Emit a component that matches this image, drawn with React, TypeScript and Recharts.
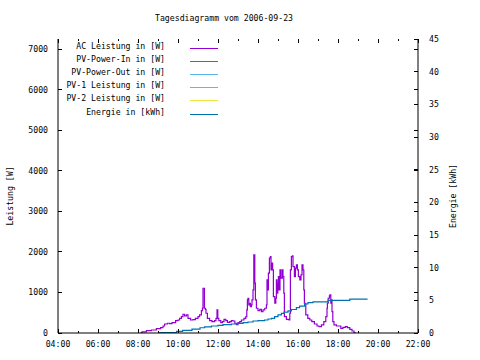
import { LineChart, Line, XAxis, YAxis, Legend } from 'recharts'

const FONT = '"DejaVu Sans Mono", "Liberation Mono", monospace'
const PLOT_W = 360
const PLOT_H = 294

const title = 'Tagesdiagramm vom 2006-09-23'
const leftLabel = 'Leistung [W]'
const rightLabel = 'Energie [kWh]'

const hourTicks = [4, 5, 6, 7, 8, 9, 10, 11, 12, 13, 14, 15, 16, 17, 18, 19, 20, 21, 22]
const wattTicks = [0, 1000, 2000, 3000, 4000, 5000, 6000, 7000]
const kwhTicks = [0, 5, 10, 15, 20, 25, 30, 35, 40, 45]

const seriesNames = [
  'AC Leistung in [W]',
  'PV-Power-In in [W]',
  'PV-Power-Out in [W]',
  'PV-1 Leistung in [W]',
  'PV-2 Leistung in [W]',
  'Energie in [kWh]',
]
const seriesColors = ['#9400d3', '#009e73', '#56b4e9', '#e69f00', '#f0e442', '#0072b2']

// AC power, hours of day / watts
const acHours = [
  8.13, 8.2, 8.42, 8.67, 8.92, 9.13, 9.25, 9.33, 9.47, 9.58, 9.7, 9.88, 10.0, 10.08, 10.17,
  10.25, 10.33, 10.42, 10.5, 10.63, 10.75, 10.87, 11.0, 11.08, 11.17, 11.22, 11.25, 11.32,
  11.37, 11.4, 11.47, 11.58, 11.7, 11.83, 11.9, 11.95, 11.99, 12.04, 12.14, 12.22, 12.3,
  12.39, 12.47, 12.59, 12.67, 12.75, 12.84, 12.92, 13.0, 13.09, 13.17, 13.3, 13.39, 13.44,
  13.47, 13.5, 13.54, 13.57, 13.62, 13.67, 13.7, 13.75, 13.79, 13.84, 13.87, 13.92, 14.0,
  14.09, 14.17, 14.25, 14.34, 14.42, 14.45, 14.49, 14.52, 14.57, 14.62, 14.65, 14.7, 14.73,
  14.77, 14.84, 14.89, 14.92, 14.95, 14.99, 15.02, 15.05, 15.1, 15.15, 15.22, 15.25, 15.29,
  15.32, 15.42, 15.55, 15.59, 15.62, 15.67, 15.72, 15.75, 15.82, 15.87, 15.92, 15.97, 16.02,
  16.09, 16.15, 16.2, 16.25, 16.29, 16.32, 16.39, 16.49, 16.59, 16.69, 16.82, 16.95, 17.05,
  17.17, 17.29, 17.39, 17.45, 17.47, 17.51, 17.57, 17.6, 17.64, 17.67, 17.7, 17.74, 17.8,
  17.92, 18.04, 18.14, 18.25, 18.37, 18.47, 18.59, 18.7, 18.8, 18.85,
]
const acWatts = [
  10, 30, 57, 74, 106, 131, 173, 222, 240, 230, 254, 304, 321, 363, 403,
  462, 420, 445, 363, 321, 329, 363, 403, 445, 551, 610, 1104, 610,
  585, 487, 363, 304, 279, 304, 363, 568, 363, 304, 254, 279, 338,
  304, 264, 279, 304, 296, 240, 205, 254, 279, 321, 363, 403, 568,
  815, 857, 692, 734, 650, 692, 815, 1062, 1927, 1228, 815, 610, 551,
  585, 526, 568, 610, 692, 1309, 1062, 1475, 1845, 1885, 1556, 1722, 1556,
  897, 734, 857, 1309, 981, 1228, 1391, 1062, 1556, 1351, 1556, 1391, 981,
  403, 338, 321, 487, 1556, 1885, 1900, 1638, 1391, 1598, 1680, 1556, 1391,
  1309, 1433, 1680, 1556, 1062, 734, 445, 363, 321, 279, 222, 173, 156,
  198, 279, 403, 610, 734, 857, 914, 939, 734, 815, 526, 279, 198,
  173, 173, 116, 141, 156, 131, 91, 49, 7, 0,
]

// cumulated energy, hours of day / kWh
const energyHours = [
  9.0, 9.93, 10.23, 10.7, 11.1, 11.33, 11.67, 12.0, 12.25, 12.67, 13.0, 13.25, 13.5, 13.75,
  14.0, 14.33, 14.5, 14.67, 14.83, 15.0, 15.17, 15.3, 15.5, 15.67, 15.92, 16.08, 16.33, 16.5,
  16.75, 17.5, 18.59, 19.48,
]
const energyKwh = [
  0.05, 0.25, 0.4, 0.6, 0.8, 0.95, 1.07, 1.18, 1.28, 1.38, 1.48, 1.58, 1.68, 1.84,
  1.9, 1.99, 2.14, 2.25, 2.5, 2.76, 3.0, 3.2, 3.4, 3.6, 3.87, 4.1, 4.44, 4.64,
  4.75, 5.0, 5.2, 5.2,
]

// no readings for these channels on this day
const pvInWatts: { h: number; v: number }[] = []
const pvOutWatts: { h: number; v: number }[] = []
const pv1Watts: { h: number; v: number }[] = []
const pv2Watts: { h: number; v: number }[] = []

const acData = acHours.map((h, i) => ({ h, v: acWatts[i] }))
const energyData = energyHours.map((h, i) => ({ h, v: energyKwh[i] }))

const fmtHour = (h: number) => `${String(h).padStart(2, '0')}:00`

const textStyle = { fontFamily: FONT, fontSize: 8.2, fill: '#000' }

const HourTick = ({ x, y, payload }: any) => {
  const major = payload.value % 2 === 0
  const len = major ? 4 : 2
  return (
    <g>
      <line x1={x} x2={x} y1={y} y2={y - len} stroke="#000" shapeRendering="crispEdges" />
      <line x1={x} x2={x} y1={y - PLOT_H} y2={y - PLOT_H + len} stroke="#000" shapeRendering="crispEdges" />
      {major && (
        <text x={x} y={y + 14} textAnchor="middle" {...textStyle}>
          {fmtHour(payload.value)}
        </text>
      )}
    </g>
  )
}

const WattTick = ({ x, y, payload }: any) => (
  <g>
    <line x1={x} x2={x + 4} y1={y} y2={y} stroke="#000" shapeRendering="crispEdges" />
    <line x1={x + PLOT_W} x2={x + PLOT_W - 4} y1={y} y2={y} stroke="#000" shapeRendering="crispEdges" />
    <text x={x - 10} y={y + 3} textAnchor="end" {...textStyle}>
      {payload.value}
    </text>
  </g>
)

const KwhTick = ({ x, y, payload }: any) => (
  <g>
    <line x1={x} x2={x - 4} y1={y} y2={y} stroke="#000" shapeRendering="crispEdges" />
    <text x={x + 11} y={y + 3} textAnchor="start" {...textStyle}>
      {payload.value}
    </text>
  </g>
)

// gnuplot style key: text right aligned, line sample to the right, in plot order
const renderLegend = (props: any) => {
  const entries = [...(props.payload || [])].sort(
    (a: any, b: any) => seriesNames.indexOf(a.value) - seriesNames.indexOf(b.value),
  )
  return (
    <div style={{ position: 'relative', width: 480, height: 130 }}>
      {entries.map((entry: any, i: number) => (
        <div
          key={entry.value}
          style={{ position: 'absolute', left: 0, top: Math.round(40 + i * 13.1), width: 218, height: 13 }}
        >
          <span
            style={{
              position: 'absolute',
              right: 53,
              top: 0,
              lineHeight: '13px',
              fontFamily: FONT,
              fontSize: 8.2,
              color: '#000',
              whiteSpace: 'pre',
            }}
          >
            {entry.value}
          </span>
          <span
            style={{
              position: 'absolute',
              left: 190,
              top: 8,
              width: 28,
              height: 1,
              background: seriesColors[seriesNames.indexOf(entry.value)],
            }}
          />
        </div>
      ))}
    </div>
  )
}

export default function App() {
  return (
    <div style={{ position: 'absolute', left: 0, top: 0, width: 480, height: 360, background: '#fff' }}>
      <LineChart width={480} height={360} margin={{ top: 39, right: 0, bottom: 0, left: 0 }}>
        <XAxis
          xAxisId="top"
          orientation="top"
          type="number"
          domain={[4, 22]}
          allowDataOverflow
          height={0}
          tick={false}
          tickLine={false}
          axisLine={{ stroke: '#000' }}
        />
        <XAxis
          dataKey="h"
          type="number"
          domain={[4, 22]}
          allowDataOverflow
          ticks={hourTicks}
          interval={0}
          height={27}
          tickSize={0}
          tickMargin={0}
          tickLine={false}
          tick={<HourTick />}
          axisLine={{ stroke: '#000' }}
        />
        <YAxis
          yAxisId="w"
          type="number"
          domain={[0, 7250]}
          allowDataOverflow
          ticks={wattTicks}
          interval={0}
          width={58}
          tickSize={0}
          tickMargin={0}
          tickLine={false}
          tick={<WattTick />}
          axisLine={{ stroke: '#000' }}
        />
        <YAxis
          yAxisId="kwh"
          orientation="right"
          type="number"
          domain={[0, 45]}
          allowDataOverflow
          ticks={kwhTicks}
          interval={0}
          width={62}
          tickSize={0}
          tickMargin={0}
          tickLine={false}
          tick={<KwhTick />}
          axisLine={{ stroke: '#000' }}
        />
        <Legend
          layout="horizontal"
          verticalAlign="middle"
          align="center"
          content={renderLegend}
          wrapperStyle={{ left: 0, top: 0, width: 480, height: 130 }}
        />
        <Line yAxisId="w" data={acData} dataKey="v" name={seriesNames[0]} type="stepAfter"
          stroke={seriesColors[0]} strokeWidth={1.2} dot={false} activeDot={false} isAnimationActive={false} />
        <Line yAxisId="w" data={pvInWatts} dataKey="v" name={seriesNames[1]} type="stepAfter"
          stroke={seriesColors[1]} strokeWidth={1.2} dot={false} activeDot={false} isAnimationActive={false} />
        <Line yAxisId="w" data={pvOutWatts} dataKey="v" name={seriesNames[2]} type="stepAfter"
          stroke={seriesColors[2]} strokeWidth={1.2} dot={false} activeDot={false} isAnimationActive={false} />
        <Line yAxisId="w" data={pv1Watts} dataKey="v" name={seriesNames[3]} type="stepAfter"
          stroke={seriesColors[3]} strokeWidth={1.2} dot={false} activeDot={false} isAnimationActive={false} />
        <Line yAxisId="w" data={pv2Watts} dataKey="v" name={seriesNames[4]} type="stepAfter"
          stroke={seriesColors[4]} strokeWidth={1.2} dot={false} activeDot={false} isAnimationActive={false} />
        <Line yAxisId="kwh" data={energyData} dataKey="v" name={seriesNames[5]} type="stepAfter"
          stroke={seriesColors[5]} strokeWidth={1.2} dot={false} activeDot={false} isAnimationActive={false} />
        <text x={224} y={21} textAnchor="middle" {...textStyle}>
          {title}
        </text>
        <text x={12.5} y={196} textAnchor="middle" transform="rotate(-90 12.5 196)" {...textStyle}>
          {leftLabel}
        </text>
        <text x={455.5} y={196} textAnchor="middle" transform="rotate(-90 455.5 196)" {...textStyle}>
          {rightLabel}
        </text>
      </LineChart>
    </div>
  )
}
